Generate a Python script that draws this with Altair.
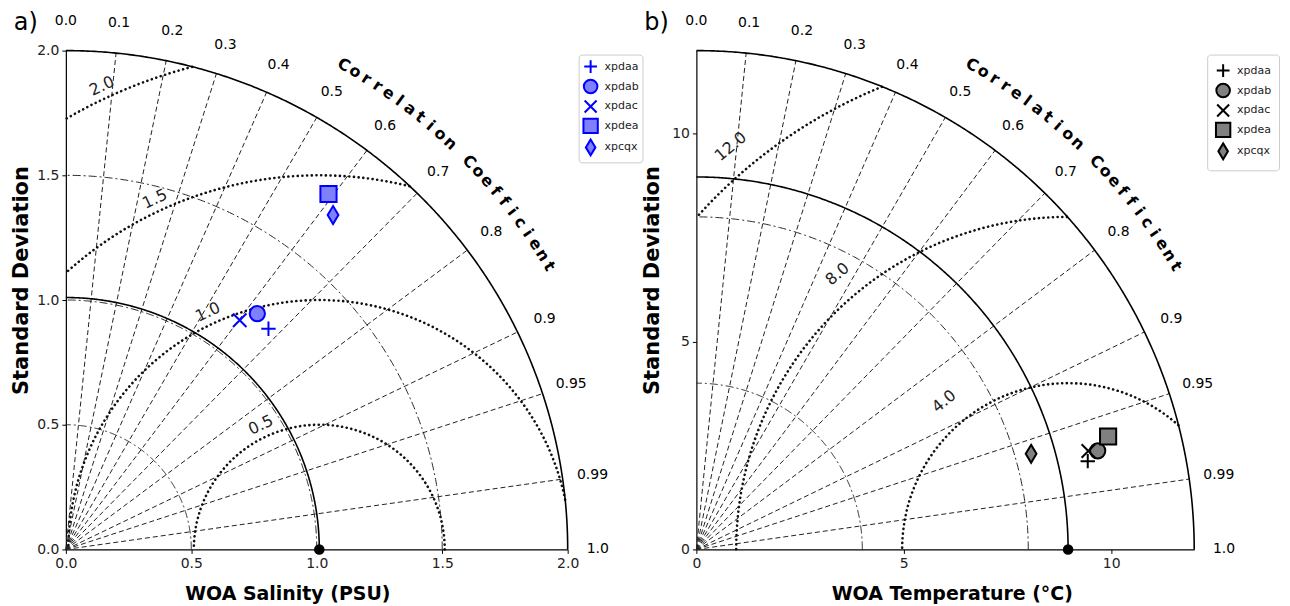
import altair as alt
import numpy as np
import pandas as pd

# ---------------- data ----------------
names = ["xpdaa", "xpdab", "xpdac", "xpdea", "xpcqx"]

a_std = [1.198, 1.215, 1.151, 1.768, 1.712]
a_corr = [0.674, 0.628, 0.602, 0.592, 0.622]
a_ref_std = 1.01

b_std = [9.67, 9.96, 9.74, 10.29, 8.39]
b_corr = [0.9756, 0.9712, 0.970, 0.9645, 0.9617]
b_ref_std = 8.96

corr_ticks = [0.0, 0.1, 0.2, 0.3, 0.4, 0.5, 0.6, 0.7, 0.8, 0.9, 0.95, 0.99, 1.0]
corr_tick_labels = ["0.0", "0.1", "0.2", "0.3", "0.4", "0.5", "0.6", "0.7",
                    "0.8", "0.9", "0.95", "0.99", "1.0"]
ray_corrs = [0.1, 0.2, 0.3, 0.4, 0.5, 0.6, 0.7, 0.8, 0.9, 0.95, 0.99]

a_max = 2.0
a_std_arcs = [0.5, 1.0, 1.5]
a_rms_levels = [0.5, 1.0, 1.5, 2.0]
a_rms_labels = ["0.5", "1.0", "1.5", "2.0"]
a_ticks = [0.0, 0.5, 1.0, 1.5, 2.0]

b_max = 12.0
b_std_arcs = [4.0, 8.0]
b_rms_levels = [4.0, 8.0, 12.0]
b_rms_labels = ["4.0", "8.0", "12.0"]
b_ticks = [0, 5, 10]

corr_title = "Correlation Coefficient"

shape_paths = [
    "M-0.8,0L0.8,0M0,-0.8L0,0.8",
    "M0.85,0A0.85,0.85,0,1,1,-0.85,0A0.85,0.85,0,1,1,0.85,0Z",
    "M-0.75,-0.75L0.75,0.75M-0.75,0.75L0.75,-0.75",
    "M-0.9,-0.9L0.9,-0.9L0.9,0.9L-0.9,0.9Z",
    "M0,-1L0.6,0L0,1L-0.6,0Z",
]

FONT = "DejaVu Sans"


def arcs_df(radii, n=361):
    rows = []
    for k, r in enumerate(radii):
        for i, t in enumerate(np.linspace(0, np.pi / 2, n)):
            rows.append(dict(x=r * np.cos(t), y=r * np.sin(t), seg=k, i=i))
    return pd.DataFrame(rows)


def rays_df(max_r):
    rows = []
    for k, c in enumerate(ray_corrs):
        s = np.sin(np.arccos(c))
        rows.append(dict(x=0.0, y=0.0, seg=k, i=0))
        rows.append(dict(x=max_r * c, y=max_r * s, seg=k, i=1))
    return pd.DataFrame(rows)


def rms_df(ref, levels, max_r):
    rows = []
    seg = 0
    for r in levels:
        phis = np.linspace(0, np.pi, 2001)
        xs = ref + r * np.cos(phis)
        ys = r * np.sin(phis)
        inside = (xs >= 0) & (np.hypot(xs, ys) <= max_r)
        prev = False
        for i in range(len(phis)):
            if inside[i]:
                if not prev:
                    seg += 1
                rows.append(dict(x=xs[i], y=ys[i], seg=seg, i=i))
            prev = inside[i]
    return pd.DataFrame(rows)


def panel(max_r, ref, std_arcs, rms_levels, rms_labels, pts_std, pts_corr,
          fill, stroke, ticks, fmt, xtitle, plabel, width, height,
          rms_phi, rms_off, xtitle_x, ytitle_x, legend_x, legend_pad):
    xsc = alt.Scale(domain=[0, max_r], nice=False, zero=False)
    ysc = alt.Scale(domain=[0, max_r], nice=False, zero=False)
    xax = alt.Axis(values=ticks, format=fmt, title=xtitle, grid=False,
                   titleX=xtitle_x, titleY=44, titleAlign="center", titleFontSize=19,
                   titleBaseline="middle", labelFlush=False, labelOverlap=False)
    yax = alt.Axis(values=ticks, format=fmt, title="Standard Deviation", grid=False,
                   titleX=ytitle_x, titleY=230, titleAngle=270, titleAlign="center",
                   titleFontSize=21,
                   titleBaseline="bottom", labelFlush=False, labelOverlap=False)

    def enc(**kw):
        return dict(x=alt.X("x:Q", scale=xsc, axis=xax),
                    y=alt.Y("y:Q", scale=ysc, axis=yax), **kw)

    rays = alt.Chart(rays_df(max_r)).mark_line(
        color="#222222", strokeWidth=1, strokeDash=[5, 3]
    ).encode(**enc(detail="seg:N", order="i:Q"))

    stdarcs = alt.Chart(arcs_df(std_arcs)).mark_line(
        color="#222222", strokeWidth=1, strokeDash=[8, 3, 2, 3]
    ).encode(**enc(detail="seg:N", order="i:Q"))

    rms = alt.Chart(rms_df(ref, rms_levels, max_r)).mark_line(
        color="#111111", strokeWidth=2.6, strokeDash=[0.1, 4.6], strokeCap="round"
    ).encode(**enc(detail="seg:N", order="i:Q"))

    solid = alt.Chart(arcs_df([max_r, ref])).mark_line(
        color="black", strokeWidth=1.6
    ).encode(**enc(detail="seg:N", order="i:Q"))

    refpt = alt.Chart(pd.DataFrame(dict(x=[ref], y=[0.0]))).mark_point(
        filled=True, color="black", size=110, opacity=1, shape="circle"
    ).encode(**enc())

    th = np.arccos(np.array(corr_ticks))
    clab = pd.DataFrame(dict(x=1.06 * max_r * np.cos(th), y=1.06 * max_r * np.sin(th),
                             t=corr_tick_labels))
    corrlab = alt.Chart(clab).mark_text(
        fontSize=14, font=FONT, color="black", align="center", baseline="middle"
    ).encode(**enc(text="t:N"))

    ph = np.deg2rad(rms_phi)
    rr = np.array(rms_levels) + rms_off
    rl = pd.DataFrame(dict(x=ref + rr * np.cos(ph), y=rr * np.sin(ph), t=rms_labels,
                           rot=[(360 - (rms_phi - 90)) % 360] * len(rms_levels)))
    rmslab = alt.Chart(rl).mark_text(
        fontSize=16, font=FONT, color="#222222", align="center", baseline="middle"
    ).encode(**enc(text="t:N", angle=alt.Angle("rot:Q", scale=None)))

    letters = []
    for i, ch in enumerate(corr_title):
        if ch == " ":
            continue
        tdeg = 60.3 - i * 1.355
        t = np.deg2rad(tdeg)
        letters.append(dict(x=1.118 * max_r * np.cos(t), y=1.118 * max_r * np.sin(t),
                            t=ch, rot=90 - tdeg))
    title = alt.Chart(pd.DataFrame(letters)).mark_text(
        fontSize=16, font=FONT, fontWeight="bold", color="black",
        align="center", baseline="middle"
    ).encode(**enc(text="t:N", angle=alt.Angle("rot:Q", scale=None)))

    pl = alt.Chart(pd.DataFrame(dict(x=[-0.08 * max_r], y=[1.055 * max_r], t=[plabel]))).mark_text(
        fontSize=24, font=FONT, color="black", align="center", baseline="middle"
    ).encode(**enc(text="t:N"))

    leg = alt.Legend(
        orient="none", legendX=legend_x, legendY=4, title=None,
        symbolSize=256, symbolStrokeWidth=2, symbolOpacity=1,
        labelFontSize=11, labelFont=FONT, labelColor="#222222",
        rowPadding=-2.5, padding=legend_pad, strokeColor="#cccccc", cornerRadius=3,
        fillColor="white", labelOffset=5,
    )
    c = np.array(pts_corr)
    s = np.array(pts_std)
    pts = pd.DataFrame(dict(name=names, x=s * c, y=s * np.sin(np.arccos(c))))
    points = alt.Chart(pts).mark_point(
        filled=True, strokeWidth=2, size=324, opacity=1
    ).encode(**enc(
        fill=alt.Fill("name:N", scale=alt.Scale(domain=names, range=[fill] * len(names)),
                      legend=leg),
        stroke=alt.Stroke("name:N", scale=alt.Scale(domain=names, range=[stroke] * len(names)),
                          legend=leg),
        shape=alt.Shape("name:N", scale=alt.Scale(domain=names, range=shape_paths),
                        legend=leg)))

    return alt.layer(rays, stdarcs, rms, solid, refpt, corrlab, rmslab, title, pl, points
                     ).properties(width=width, height=height)


pa = panel(a_max, a_ref_std, a_std_arcs, a_rms_levels, a_rms_labels, a_std, a_corr,
           "#8080ff", "#0000ff", a_ticks, ".1f", "WOA Salinity (PSU)", "a)", 503, 500,
           115, 0.05, 222, -34, 514, 3)
pb = panel(b_max, b_ref_std, b_std_arcs, b_rms_levels, b_rms_labels, b_std, b_corr,
           "#808080", "#000000", b_ticks, "d", "WOA Temperature (°C)", "b)", 499, 500,
           130, 0.65, 256, -34, 512, 7)

chart = alt.hconcat(pa, pb, spacing=129, bounds="flush").resolve_scale(
    shape="independent", fill="independent", stroke="independent"
).resolve_legend(
    shape="independent", fill="independent", stroke="independent"
).properties(
    padding={"left": 2, "top": 2, "right": 2, "bottom": 2}
).configure(font=FONT).configure_view(stroke=None).configure_axis(
    domainColor="black", domainWidth=1.2, tickColor="black", tickSize=4,
    labelFontSize=14, labelColor="#222222", labelFont=FONT, labelPadding=3,
    titleFontWeight="bold", titleColor="black", titleFont=FONT,
)

chart.save("out.html", embed_options={"renderer": "svg", "actions": False})
